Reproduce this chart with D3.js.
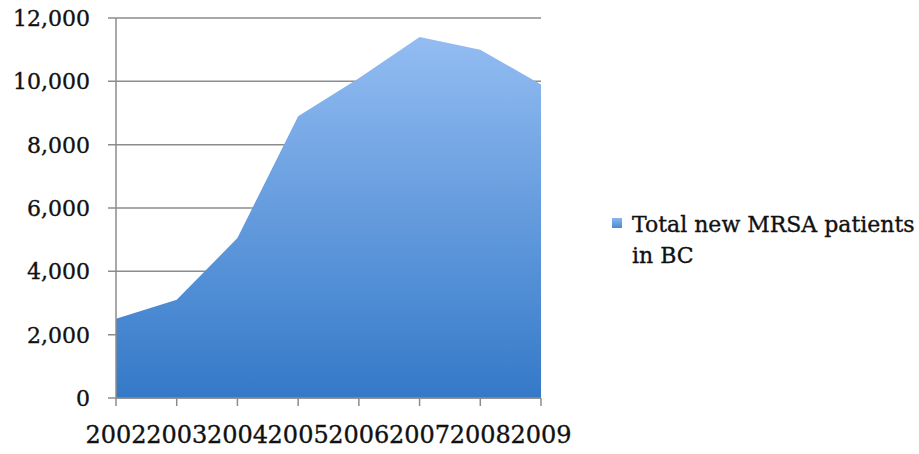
<!DOCTYPE html>
<html>
<head>
<meta charset="utf-8">
<script src="https://cdn.jsdelivr.net/npm/d3@7"></script>
<style>
  body { margin: 0; background: #fff; }
  text { font-family: "DejaVu Serif", serif; fill: #111; stroke: #111; stroke-width: 0.35px; }
</style>
</head>
<body>
<div id="chart"></div>
<script>
const years = ["2002", "2003", "2004", "2005", "2006", "2007", "2008", "2009"];
const patients = [2500, 3100, 5050, 8900, 10100, 11400, 11000, 9900];
const yTicks = [0, 2000, 4000, 6000, 8000, 10000, 12000];
const seriesName = ["Total new MRSA patients", "in BC"];

const size = { width: 919, height: 454 };
const margin = { top: 18, bottom: 56, left: 116, right: 378 };

const svg = d3.select("#chart").append("svg")
  .attr("width", size.width)
  .attr("height", size.height);

const x = d3.scalePoint()
  .domain(years)
  .range([margin.left, size.width - margin.right]);

const y = d3.scaleLinear()
  .domain([0, 12000])
  .range([size.height - margin.bottom, margin.top]);

const defs = svg.append("defs");
const grad = defs.append("linearGradient")
  .attr("id", "areaFill")
  .attr("gradientUnits", "userSpaceOnUse")
  .attr("x1", 0).attr("x2", 0)
  .attr("y1", y(12000)).attr("y2", y(0));
grad.append("stop").attr("offset", "0%").attr("stop-color", "#98c0f4");
grad.append("stop").attr("offset", "100%").attr("stop-color", "#3479c8");

const legGrad = defs.append("linearGradient")
  .attr("id", "legFill")
  .attr("x1", 0).attr("x2", 0).attr("y1", 0).attr("y2", 1);
legGrad.append("stop").attr("offset", "0%").attr("stop-color", "#8ab6ee");
legGrad.append("stop").attr("offset", "100%").attr("stop-color", "#4a88d2");

// gridlines + y labels
const grid = svg.append("g");
yTicks.forEach((v) => {
  grid.append("line")
    .attr("x1", margin.left - 8)
    .attr("x2", size.width - margin.right)
    .attr("y1", y(v))
    .attr("y2", y(v))
    .attr("stroke", "#8c8c8c")
    .attr("stroke-width", 1.5);
  grid.append("text")
    .text(d3.format(",")(v))
    .attr("x", 90)
    .attr("y", y(v))
    .attr("dy", "0.36em")
    .attr("text-anchor", "end")
    .style("font-size", "22px");
});

// area
const area = d3.area()
  .x((d, i) => x(years[i]))
  .y0(y(0))
  .y1((d) => y(d));

svg.append("path")
  .datum(patients)
  .attr("d", area)
  .attr("fill", "url(#areaFill)");

// y axis line
svg.append("line")
  .attr("x1", margin.left).attr("x2", margin.left)
  .attr("y1", y(12000)).attr("y2", y(0))
  .attr("stroke", "#8c8c8c")
  .attr("stroke-width", 1.5);

// x axis
const xAxis = svg.append("g")
  .attr("transform", `translate(0, ${y(0)})`);
xAxis.append("line")
  .attr("x1", margin.left).attr("x2", size.width - margin.right)
  .attr("stroke", "#8c8c8c")
  .attr("stroke-width", 1.5);
years.forEach((yr) => {
  xAxis.append("line")
    .attr("x1", x(yr)).attr("x2", x(yr))
    .attr("y1", 0).attr("y2", 8)
    .attr("stroke", "#8c8c8c")
    .attr("stroke-width", 1.5);
  xAxis.append("text")
    .text(yr)
    .attr("x", x(yr))
    .attr("y", 45)
    .attr("text-anchor", "middle")
    .style("font-size", "24px");
});

// legend
const legend = svg.append("g");
legend.append("rect")
  .attr("x", 612).attr("y", 218)
  .attr("width", 10).attr("height", 10)
  .attr("fill", "url(#legFill)");
seriesName.forEach((t, i) => {
  legend.append("text")
    .text(t)
    .attr("x", 632)
    .attr("y", 232 + i * 31)
    .style("font-size", "22px");
});
</script>
</body>
</html>
